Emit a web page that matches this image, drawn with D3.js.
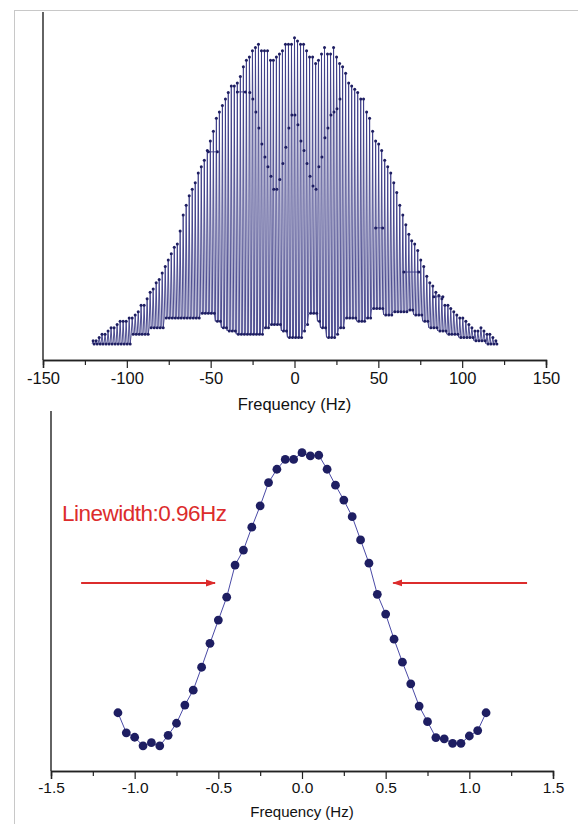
<!DOCTYPE html>
<html>
<head>
<meta charset="utf-8">
<script src="https://cdn.jsdelivr.net/npm/d3@7/dist/d3.min.js"></script>
<style>
body { margin: 0; background: #fff; }
text { font-family: "Liberation Sans", Arial, sans-serif; }
</style>
</head>
<body>
<script>
// top panel: one stem per comb line (Hz), top, bottom and a flank point of each stem
const stemHz = [-120.1,-118.3,-116.5,-114.8,-113.0,-111.2,-109.4,-107.6,-105.8,-104.0,-102.2,-100.4,-98.6,-96.8,-95.0,-93.2,-91.5,-89.7,-87.9,-86.1,-84.3,-82.5,-80.7,-78.9,-77.1,-75.3,-73.5,-71.7,-69.9,-68.2,-66.4,-64.6,-62.8,-61.0,-59.2,-57.4,-55.6,-53.8,-52.0,-50.2,-48.4,-46.6,-44.8,-43.0,-41.2,-39.5,-37.7,-35.9,-34.1,-32.3,-30.5,-28.7,-26.9,-25.1,-23.3,-21.5,-19.7,-17.9,-16.1,-14.3,-12.6,-10.8,-9.0,-7.2,-5.4,-3.6,-1.8,0.0,1.8,3.6,5.4,7.2,9.0,10.8,12.6,14.3,16.1,17.9,19.7,21.5,23.3,25.1,26.9,28.7,30.5,32.3,34.1,35.9,37.7,39.5,41.2,43.0,44.8,46.6,48.4,50.2,52.0,53.8,55.6,57.4,59.2,61.0,62.8,64.6,66.4,68.2,69.9,71.7,73.5,75.3,77.1,78.9,80.7,82.5,84.3,86.1,87.9,89.7,91.5,93.2,95.0,96.8,98.6,100.4,102.2,104.0,105.8,107.6,109.4,111.2,113.0,114.8,116.5,118.3,120.1];
const stemTop = [0.06,0.06,0.07,0.08,0.08,0.09,0.10,0.10,0.11,0.12,0.12,0.12,0.13,0.13,0.14,0.15,0.17,0.17,0.19,0.21,0.22,0.24,0.25,0.27,0.29,0.31,0.33,0.35,0.36,0.40,0.45,0.48,0.51,0.53,0.55,0.58,0.60,0.62,0.65,0.68,0.71,0.75,0.77,0.79,0.81,0.83,0.85,0.85,0.86,0.88,0.91,0.93,0.94,0.96,0.97,0.98,0.96,0.96,0.96,0.93,0.93,0.94,0.95,0.96,0.98,0.98,0.98,1.00,0.99,0.98,0.98,0.96,0.94,0.94,0.92,0.93,0.95,0.97,0.95,0.95,0.97,0.94,0.92,0.91,0.89,0.86,0.85,0.84,0.83,0.81,0.81,0.77,0.75,0.71,0.68,0.67,0.65,0.62,0.60,0.58,0.55,0.52,0.48,0.45,0.42,0.39,0.37,0.36,0.34,0.31,0.29,0.26,0.24,0.23,0.21,0.20,0.19,0.17,0.17,0.16,0.15,0.14,0.13,0.13,0.12,0.11,0.10,0.09,0.09,0.10,0.09,0.08,0.08,0.07,0.06];
const stemLow = [0.05,0.05,0.05,0.05,0.05,0.05,0.05,0.05,0.05,0.05,0.05,0.05,0.05,0.08,0.08,0.08,0.08,0.08,0.08,0.10,0.10,0.10,0.10,0.10,0.13,0.13,0.13,0.13,0.13,0.13,0.13,0.13,0.13,0.13,0.13,0.13,0.145,0.145,0.145,0.145,0.145,0.12,0.12,0.10,0.10,0.09,0.09,0.09,0.08,0.08,0.08,0.08,0.08,0.08,0.08,0.08,0.08,0.10,0.10,0.11,0.11,0.11,0.11,0.09,0.09,0.07,0.07,0.07,0.07,0.07,0.09,0.11,0.145,0.145,0.145,0.12,0.10,0.10,0.07,0.07,0.07,0.08,0.10,0.10,0.13,0.13,0.13,0.13,0.12,0.12,0.12,0.13,0.13,0.16,0.16,0.16,0.16,0.14,0.14,0.14,0.15,0.15,0.15,0.15,0.15,0.155,0.155,0.14,0.14,0.14,0.12,0.12,0.10,0.10,0.10,0.09,0.09,0.09,0.08,0.08,0.08,0.08,0.07,0.07,0.07,0.07,0.07,0.06,0.06,0.06,0.06,0.05,0.05,0.05,0.05];
// flank points on the stems near the centre (null = none visible)
const stemMid = [null,null,null,null,null,null,null,null,null,null,null,null,null,null,null,null,null,null,null,null,null,null,null,null,null,null,null,null,null,null,null,null,null,null,null,null,null,null,null,null,null,null,null,null,null,null,null,null,null,null,null,null,0.83,0.81,0.77,0.72,0.67,0.63,0.60,0.57,0.53,0.53,0.56,0.61,0.66,0.72,0.76,0.76,0.73,0.68,0.65,0.61,0.57,0.54,0.53,0.60,0.63,0.69,0.72,0.76,0.77,0.78,0.81,null,null,null,null,null,null,null,null,null,null,null,null,null,null,null,null,null,null,null,null,null,null,null,null,null,null,null,null,null,null,null,null,null,null,null,null,null,null,null,null,null,null,null,null,null,null,null,null,null,null,null,null,null,null,null,null,null];
// flat runs on the flanks: [from Hz, to Hz, level]
const flatRuns = [[-51.4,-46.0,0.646],[-34.1,-29.3,0.832],[48.4,52.6,0.41],[65.2,74.1,0.273],[83.1,88.5,0.196]];

// bottom panel: single line, 0.05 Hz steps
const lwHz = [-1.10,-1.05,-1.00,-0.95,-0.90,-0.85,-0.80,-0.75,-0.70,-0.65,-0.60,-0.55,-0.50,-0.45,-0.40,-0.35,-0.30,-0.25,-0.20,-0.15,-0.10,-0.05,0.00,0.05,0.10,0.15,0.20,0.25,0.30,0.35,0.40,0.45,0.50,0.55,0.60,0.65,0.70,0.75,0.80,0.85,0.90,0.95,1.00,1.05,1.10];
const lwAmp = [0.183,0.120,0.106,0.079,0.089,0.079,0.112,0.150,0.207,0.254,0.326,0.401,0.474,0.546,0.647,0.694,0.766,0.833,0.906,0.948,0.979,0.979,1.000,0.990,0.992,0.948,0.898,0.851,0.799,0.726,0.653,0.555,0.493,0.414,0.342,0.274,0.204,0.155,0.105,0.101,0.087,0.087,0.110,0.127,0.183];

const topTicks = [-150,-100,-50,0,50,100,150];
const topMinor = [-125,-75,-25,25,75,125];
const lwTicks = [-1.5,-1.0,-0.5,0.0,0.5,1.0,1.5];
const lwMinor = [-1.25,-0.75,-0.25,0.25,0.75,1.25];
const lwLabel = 'Linewidth:0.96Hz';
const arrowsHz = [[-1.32,-0.52],[1.345,0.545]];
const arrowAmp = 0.591;

const width = 578;
const height = 824;

const svg = d3.select('body').append('svg').attr('width',width).attr('height',height);

svg.append('rect')
    .attr('x',14.5).attr('y',10.5)
    .attr('width',width).attr('height',height)
    .attr('fill','#fff')
    .attr('stroke','#c8c8c8');

const navy = '#1e1e62';
const red = '#dc2c2c';

// ---------- top panel ----------
const x1 = d3.scaleLinear().domain([-150,150]).range([43,546]);
const y1 = d3.scaleLinear().domain([0,1.08]).range([360,12]);

const gTop = svg.append('g');

const pts = [];
stemHz.forEach((f,i) => {
    pts.push([f-0.6, stemLow[i]]);
    pts.push([f, stemTop[i]]);
    if (stemMid[i] !== null) pts.push([f+0.25, stemMid[i]]);
    pts.push([f+0.6, stemLow[i]]);
});

const line1 = d3.line().x(d=>x1(d[0])).y(d=>y1(d[1]));

gTop.append('path')
    .datum(pts)
    .attr('fill','none')
    .attr('stroke','#3b3b86')
    .attr('stroke-width',0.9)
    .attr('d',line1);

gTop.selectAll('.run')
    .data(flatRuns)
    .enter()
    .append('line')
    .attr('class','run')
    .attr('x1',d=>x1(d[0])).attr('x2',d=>x1(d[1]))
    .attr('y1',d=>y1(d[2])).attr('y2',d=>y1(d[2]))
    .attr('stroke','#3b3b86')
    .attr('stroke-width',0.9);

const dots = [];
stemHz.forEach((f,i) => {
    dots.push([f, stemTop[i]]);
    dots.push([f+0.6, stemLow[i]]);
    if (stemMid[i] !== null) dots.push([f+0.25, stemMid[i]]);
});
flatRuns.forEach(d => { dots.push([d[0],d[2]]); dots.push([d[1],d[2]]); });

gTop.selectAll('.topdot')
    .data(dots)
    .enter()
    .append('circle')
    .attr('class','topdot')
    .attr('cx',d=>x1(d[0]))
    .attr('cy',d=>y1(d[1]))
    .attr('r',1.5)
    .attr('fill',navy);

const xAxis1 = gTop.append('g').attr('transform','translate(0,360)');
xAxis1.call(d3.axisBottom(x1).tickValues(topTicks).tickSize(8).tickFormat(d=>String(d)));
xAxis1.selectAll('text')
    .attr('font-size',16.5)
    .attr('fill','#111')
    .attr('dy','0.8em');
xAxis1.append('g').call(d3.axisBottom(x1).tickValues(topMinor).tickSize(5).tickFormat(()=>''));
xAxis1.selectAll('.domain').attr('stroke','#222').attr('stroke-width',1.4);
xAxis1.selectAll('line').attr('stroke','#222').attr('stroke-width',1.2);

gTop.append('line')
    .attr('x1',43).attr('x2',43)
    .attr('y1',12).attr('y2',360)
    .attr('stroke','#222').attr('stroke-width',1.4);

gTop.append('text')
    .attr('x',x1(0)).attr('y',410)
    .attr('text-anchor','middle')
    .attr('font-size',16.5)
    .attr('fill','#111')
    .text('Frequency (Hz)');

// ---------- bottom panel ----------
const x2 = d3.scaleLinear().domain([-1.5,1.5]).range([51,553]);
const y2 = d3.scaleLinear().domain([0,1.131]).range([771,411]);

const gBot = svg.append('g');

gBot.append('path')
    .datum(lwHz.map((f,i)=>[f,lwAmp[i]]))
    .attr('fill','none')
    .attr('stroke','#4a4aa6')
    .attr('stroke-width',1)
    .attr('d',d3.line().x(d=>x2(d[0])).y(d=>y2(d[1])));

gBot.selectAll('.lwdot')
    .data(lwHz)
    .enter()
    .append('circle')
    .attr('class','lwdot')
    .attr('cx',d=>x2(d))
    .attr('cy',(d,i)=>y2(lwAmp[i]))
    .attr('r',4.4)
    .attr('fill',navy);

const xAxis2 = gBot.append('g').attr('transform','translate(0,771)');
xAxis2.call(d3.axisBottom(x2).tickValues(lwTicks).tickSize(8).tickFormat(d=>d.toFixed(1)));
xAxis2.selectAll('text')
    .attr('font-size',15.5)
    .attr('fill','#111');
xAxis2.append('g').call(d3.axisBottom(x2).tickValues(lwMinor).tickSize(5).tickFormat(()=>''));
xAxis2.selectAll('.domain').attr('stroke','#222').attr('stroke-width',1.4);
xAxis2.selectAll('line').attr('stroke','#222').attr('stroke-width',1.2);

gBot.append('line')
    .attr('x1',51).attr('x2',51)
    .attr('y1',411).attr('y2',771)
    .attr('stroke','#222').attr('stroke-width',1.4);

gBot.append('text')
    .attr('x',x2(0)).attr('y',817)
    .attr('text-anchor','middle')
    .attr('font-size',15)
    .attr('fill','#111')
    .text('Frequency (Hz)');

// annotation
svg.append('defs').append('marker')
    .attr('id','head')
    .attr('viewBox','0 0 10 10')
    .attr('refX',9).attr('refY',5)
    .attr('markerWidth',5).attr('markerHeight',5)
    .attr('orient','auto')
    .append('path')
    .attr('d','M0,1.5L10,5L0,8.5z')
    .attr('fill',red);

gBot.selectAll('.arrow')
    .data(arrowsHz)
    .enter()
    .append('line')
    .attr('class','arrow')
    .attr('x1',d=>x2(d[0])).attr('x2',d=>x2(d[1]))
    .attr('y1',y2(arrowAmp)).attr('y2',y2(arrowAmp))
    .attr('stroke',red)
    .attr('stroke-width',2)
    .attr('marker-end','url(#head)');

gBot.append('text')
    .attr('x',62).attr('y',521)
    .attr('font-size',22.5)
    .attr('letter-spacing',-0.5)
    .attr('fill',red)
    .text(lwLabel);
</script>
</body>
</html>
